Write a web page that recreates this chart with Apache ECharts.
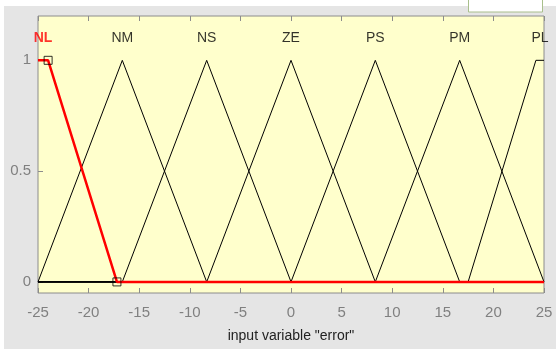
<!DOCTYPE html>
<html>
<head>
<meta charset="utf-8">
<script src="https://cdn.jsdelivr.net/npm/echarts@6/dist/echarts.min.js"></script>
<style>
  html, body { margin: 0; padding: 0; background: #fff; }
  #chart { width: 556px; height: 349px; }
</style>
</head>
<body>
<div id="chart"></div>
<script>
// membership function names and parameters (input variable "error")
var mfNames = ['NM', 'NS', 'ZE', 'PS', 'PM'];
var triParams = [
    [-25, -16.67, -8.33],
    [-16.67, -8.33, 0],
    [-8.33, 0, 8.33],
    [0, 8.33, 16.67],
    [8.33, 16.67, 25]
];
var nlParams = [-25, -25, -24, -17.2];   // trapmf, selected (red)
var plParams = [17.5, 24.2, 25, 25];     // trapmf
var xTicks = [-25, -20, -15, -10, -5, 0, 5, 10, 15, 20, 25];
var yTicks = [0, 0.5, 1];
var xRange = [-25, 25];
var labelY = 1.1;

var chart = echarts.init(document.getElementById('chart'));

var series = [];

// black triangles, each plotted across the whole range
triParams.forEach(function (p, i) {
    series.push({
        name: mfNames[i],
        type: 'line',
        symbol: 'none',
        lineStyle: { color: '#000', width: 1 },
        data: [[xRange[0], 0], [p[0], 0], [p[1], 1], [p[2], 0], [xRange[1], 0]],
        z: 2
    });
});

// PL trapezoid
series.push({
    name: 'PL',
    type: 'line',
    symbol: 'none',
    lineStyle: { color: '#000', width: 1 },
    data: [[xRange[0], 0], [plParams[0], 0], [plParams[1], 1], [plParams[2], 1], [plParams[3], 1]],
    z: 2
});

// NL trapezoid, highlighted
series.push({
    name: 'NL',
    type: 'line',
    symbol: 'none',
    lineStyle: { color: '#ff0000', width: 2.5 },
    data: [[nlParams[0], 1], [nlParams[2], 1], [nlParams[3], 0], [xRange[1], 0]],
    z: 3
});

// selection squares on NL
series.push({
    type: 'scatter',
    symbol: 'rect',
    symbolSize: 8,
    itemStyle: { color: 'rgba(0,0,0,0)', borderColor: '#000', borderWidth: 1 },
    data: [[nlParams[2], 1], [nlParams[3], 0]],
    z: 4
});

// names above each function
var labelData = [{ value: [(nlParams[0] + nlParams[2]) / 2, labelY], name: 'NL',
    label: { color: '#ff0000', fontWeight: 'bold' } }];
triParams.forEach(function (p, i) {
    labelData.push({ value: [p[1], labelY], name: mfNames[i] });
});
labelData.push({ value: [(plParams[1] + plParams[2]) / 2, labelY], name: 'PL' });

series.push({
    type: 'scatter',
    symbolSize: 1,
    itemStyle: { color: 'rgba(0,0,0,0)' },
    label: {
        show: true,
        position: 'inside',
        formatter: '{b}',
        color: '#000',
        fontFamily: 'Liberation Sans',
        fontSize: 14
    },
    data: labelData,
    z: 5
});

var option = {
    backgroundColor: '#e5e5e5',
    animation: false,
    graphic: [
        { type: 'rect', shape: { x: 0, y: 0, width: 556, height: 6 }, style: { fill: '#fff' } },
        { type: 'rect', shape: { x: 0, y: 0, width: 4, height: 349 }, style: { fill: '#fff' } },
        { type: 'rect', shape: { x: 468.5, y: -1, width: 74, height: 13 },
          style: { fill: '#fff', stroke: '#a9bf8c', lineWidth: 1 } }
    ],
    grid: {
        left: 38,
        right: 12,
        top: 16,
        bottom: 56,
        outerBoundsMode: 'none',
        show: true,
        backgroundColor: '#ffffcc',
        borderColor: '#8c8c8c',
        borderWidth: 1
    },
    xAxis: [{
        type: 'value',
        min: xRange[0],
        max: xRange[1],
        interval: 5,
        name: 'input variable "error"',
        nameLocation: 'middle',
        nameGap: 36,
        nameTextStyle: { color: '#222', fontFamily: 'Liberation Sans', fontSize: 14 },
        axisLine: { show: false, onZero: false },
        axisTick: { inside: true, length: 5, lineStyle: { color: '#8c8c8c' } },
        axisLabel: { color: '#808080', fontFamily: 'Liberation Sans', fontSize: 15, margin: 12,
            customValues: xTicks },
        splitLine: { show: false }
    }, {
        type: 'value',
        position: 'top',
        min: xRange[0],
        max: xRange[1],
        interval: 5,
        axisLine: { show: false, onZero: false },
        axisTick: { inside: true, length: 5, lineStyle: { color: '#8c8c8c' } },
        axisLabel: { show: false },
        splitLine: { show: false }
    }],
    yAxis: {
        type: 'value',
        min: -0.05,
        max: 1.2,
        axisLine: { show: false, onZero: false },
        axisTick: { inside: true, length: 5, customValues: yTicks, lineStyle: { color: '#8c8c8c' } },
        axisLabel: { color: '#808080', fontFamily: 'Liberation Sans', fontSize: 15, margin: 7,
            customValues: yTicks },
        splitLine: { show: false }
    },
    series: series
};

chart.setOption(option);
</script>
</body>
</html>
